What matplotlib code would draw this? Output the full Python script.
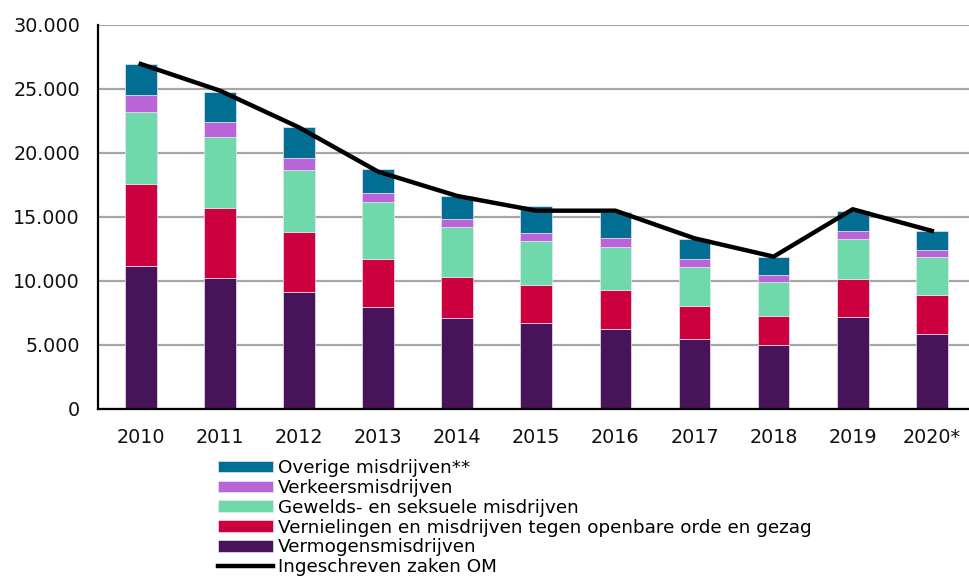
import matplotlib.pyplot as plt
from matplotlib.ticker import FuncFormatter

years = ["2010", "2011", "2012", "2013", "2014", "2015", "2016", "2017", "2018", "2019", "2020*"]

vermogen = [11200, 10260, 9170, 7950, 7130, 6740, 6280, 5440, 4970, 7210, 5840]
vernieling = [6380, 5470, 4660, 3770, 3210, 2970, 3040, 2630, 2300, 2950, 3040]
gewelds = [5650, 5520, 4840, 4480, 3900, 3440, 3360, 3050, 2650, 3120, 3000]
verkeer = [1300, 1150, 920, 650, 600, 620, 680, 600, 550, 630, 540]
overige = [2400, 2390, 2470, 1880, 1770, 2090, 2060, 1530, 1430, 1560, 1510]
ingeschreven = [26950, 24870, 22000, 18540, 16640, 15490, 15490, 13330, 11900, 15600, 13910]

series = [
    ("Vermogensmisdrijven", vermogen, "#471459"),
    ("Vernielingen en misdrijven tegen openbare orde en gezag", vernieling, "#cc003e"),
    ("Gewelds- en seksuele misdrijven", gewelds, "#6fd9ab"),
    ("Verkeersmisdrijven", verkeer, "#b964d8"),
    ("Overige misdrijven**", overige, "#036e94"),
]


def main():
    plt.rcParams["font.family"] = "DejaVu Sans"
    fig = plt.figure(figsize=(9.7, 5.76), dpi=100)
    ax = fig.add_axes([0.101, 0.290, 0.898, 0.6667])

    x = list(range(len(years)))
    bottom = [0] * len(years)
    handles = []
    for label, vals, color in series:
        b = ax.bar(x, vals, 0.40, bottom=bottom, color=color, label=label,
                   edgecolor="#ece4f0", linewidth=0.5, zorder=2)
        handles.append(b)
        bottom = [bo + v for bo, v in zip(bottom, vals)]

    line, = ax.plot(x, ingeschreven, color="black", lw=3.2, label="Ingeschreven zaken OM", zorder=3)

    # Axes styling
    ax.set_ylim(0, 30000)
    ax.set_xlim(-0.54, 10.47)
    ax.set_yticks(range(0, 30001, 5000))
    ax.yaxis.set_major_formatter(FuncFormatter(lambda v, p: f"{int(v):,}".replace(",", ".")))
    ax.set_xticks(x)
    ax.set_xticklabels(years)
    ax.tick_params(axis="both", length=0, labelsize=13.8, colors="#111111")
    ax.tick_params(axis="x", pad=14)
    ax.tick_params(axis="y", pad=13)
    ax.grid(axis="y", color="#a6a6a6", lw=1.6, zorder=0)
    ax.set_axisbelow(True)
    for s in ["top", "right"]:
        ax.spines[s].set_visible(False)
    ax.spines["left"].set_linewidth(1.6)
    ax.spines["bottom"].set_linewidth(1.6)

    # Legend
    leg_handles = handles[::-1] + [line]
    fig.legend(handles=leg_handles, labels=[h.get_label() for h in leg_handles],
               loc="upper left", bbox_to_anchor=(0.2247, 0.203), frameon=False,
               fontsize=13.2, handlelength=3.0, handleheight=0.6, handletextpad=0.28,
               labelspacing=0.1, borderpad=0, borderaxespad=0)

    fig.savefig("out.png", dpi=100)


if __name__ == "__main__":
    main()
